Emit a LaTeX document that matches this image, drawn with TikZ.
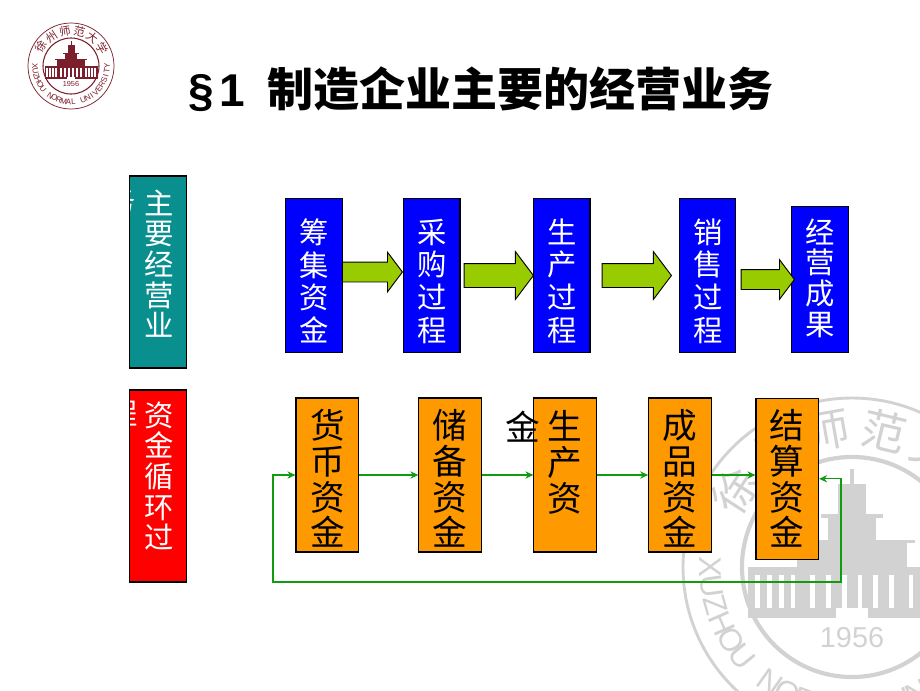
\documentclass[tikz,border=0pt]{standalone}
\usepackage{fontspec}
\setmainfont{Liberation Sans}
\newfontfamily\cjk{Noto Sans CJK SC}
\usetikzlibrary{
  arrows.meta,
  shapes.arrows
}
\definecolor{xzteal}{HTML}{0A8F8F}
\definecolor{xzblue}{HTML}{0000FF}
\definecolor{xzred}{HTML}{FF0000}
\definecolor{xzorange}{HTML}{FF9900}
\definecolor{xzolive}{HTML}{99CC00}
\definecolor{xzline}{HTML}{0F9D0F}
\definecolor{xzseal}{HTML}{7A1F2B}
\definecolor{xzmark}{HTML}{D2D2D2}

% seal: x, y, scale, colour
\newcommand{\xzseal}[4]{
  \begin{scope}[shift={(#1,#2)}, y=0.75pt, scale=#3, transform shape]
    \draw[#4, line width=#3*0.55pt] (0,0) circle (43);
    \draw[#4, line width=#3*0.8pt] (0,0) circle (28);
    % building
    \fill[#4] (-26.5,-13) rectangle (26.5,0);
    \fill[#4] (-14,-13) rectangle (14,6);
    \fill[#4] (-16,6) rectangle (16,7);
    \fill[#4] (-6,7) rectangle (6,12.5);
    \fill[#4] (-8,12.5) rectangle (8,13.5);
    \fill[#4] (-3.5,13.5) rectangle (3.5,21);
    \fill[#4] (-0.4,21) rectangle (0.4,25);
    \foreach \sx in {-24,-21,-18,-15,-10,-6,-2,2,6,10,15,18,21,24}
      \fill[white] (\sx-0.6,-10.5) rectangle (\sx+0.6,-2);
    \fill[white] (-4,-13) rectangle (4,-10.5);
    \node[text=#4, font=\fontsize{5.5}{6}\selectfont, inner sep=0pt] at (0,-18) {1956};
    % ring text
    \foreach \ch [count=\i from 0] in {X,U,Z,H,O,U,{ },N,O,R,M,A,L,{ },U,N,I,V,E,R,S,I,T,Y}
      \node[text=#4, font=\fontsize{6}{7}\selectfont, inner sep=0pt, rotate={180+\i*7.83+90}]
        at ({180+\i*7.83}:36) {\ch};
    \foreach \ch [count=\i from 0] in {徐,州,师,范,大,学}
      \node[text=#4, font=\fontsize{8.5}{9}\selectfont\cjk, inner sep=0pt, rotate={147-\i*23.5-90}]
        at ({147-\i*23.5}:35.5) {\ch};
  \end{scope}
}

\begin{document}
\begin{tikzpicture}[
  x=0.75pt, y=-0.75pt,
  sidebox/.style={draw=black, line width=0.8pt, minimum width=42.4pt, minimum height=144pt, inner sep=0pt},
  bluebox/.style={draw=black, line width=0.8pt, fill=xzblue, minimum width=42.4pt, inner sep=0pt},
  orangebox/.style={draw=black, line width=0.8pt, fill=xzorange, minimum width=47pt, inner sep=0pt},
  whitetext/.style={text=white, align=center, inner sep=0pt,
    font=\fontsize{22}{24.5}\selectfont\cjk},
  sidetext/.style={text=white, align=center, inner sep=0pt,
    font=\fontsize{22}{23}\selectfont\cjk},
  blacktext/.style={text=black, align=center, inner sep=0pt,
    font=\fontsize{26}{26.8}\selectfont\cjk},
  blockarrow/.style={draw=black, line width=0.7pt, fill=xzolive, single arrow, anchor=tip, inner sep=0pt,
    single arrow tip angle=106, text depth=0pt},
  flowline/.style={-{Stealth[length=6pt, width=5.5pt]}, xzline, line width=0.8pt}
]
  \useasboundingbox (0,0) rectangle (920,690);

  % Watermark
  \begin{scope}
    \clip (0,0) rectangle (920,690);
    \xzseal{852}{567}{3.93}{xzmark}
  \end{scope}

  % Seal
  \xzseal{71}{66}{1}{xzseal}

  % Title
  \node[anchor=west, inner sep=0pt, font=\fontsize{34.5}{40}\selectfont\bfseries] (title) at (188,89)
    {§\hspace{4pt}1\hspace{17pt}{\cjk 制造企业主要的经营业务}};

  % Side bars
  \node[sidebox, fill=xzteal] (mainbar) at (158.2,272) {};
  \node[sidebox, fill=xzred] (fundbar) at (158.2,486) {};
  \begin{scope}
    \clip (130,176) rectangle (186.5,368);
    \node[sidetext] (mainwrap) at (121,201) {务};
  \end{scope}
  \begin{scope}
    \clip (130,390) rectangle (186.5,582);
    \node[sidetext] (fundwrap) at (123,414) {程};
  \end{scope}
  \node[sidetext] (maintext) at (159,263.5) {主\\要\\经\\营\\业};
  \node[sidetext] (fundtext) at (159,476) {资\\金\\循\\环\\过};

  % Upper row
  \node[bluebox, minimum height=115pt] (chouji) at (314,275.5) {};
  \node[bluebox, minimum height=115pt] (caigou) at (431.7,275.5) {};
  \node[bluebox, minimum height=115pt] (shengchan) at (561.7,275.5) {};
  \node[bluebox, minimum height=115pt] (xiaoshou) at (707.5,275.5) {};
  \node[bluebox, minimum height=109.5pt] (chengguo) at (820,279.2) {};

  \node[whitetext] at (314.5,281) (choujitext) {筹\\集\\资\\金};
  \node[whitetext] at (432,281) (caigoutext) {采\\购\\过\\程};
  \node[whitetext] at (562,281) (shengchantext) {生\\产\\过\\程};
  \node[whitetext] at (708,281) (xiaoshoutext) {销\\售\\过\\程};
  \node[sidetext] at (820,278) (chengguotext) {经\\营\\成\\果};

  % Block arrows
  \node[blockarrow, text height=14.25pt, single arrow head extend=7.4pt, minimum height=45pt] (arrowa) at (403,272) {};
  \node[blockarrow, text height=17.25pt, single arrow head extend=8.9pt, minimum height=52pt] (arrowb) at (534,275.5) {};
  \node[blockarrow, text height=17.25pt, single arrow head extend=8.9pt, minimum height=52pt] (arrowc) at (672,275.5) {};
  \node[blockarrow, text height=14.25pt, single arrow head extend=7.4pt, minimum height=40pt] (arrowd) at (795,279.5) {};

  % Lower row
  \node[orangebox, minimum height=115.5pt] (huobi) at (327.3,475) {};
  \node[orangebox, minimum height=115.5pt] (chubei) at (450.2,475) {};
  \node[orangebox, minimum height=115.5pt] (shengzi) at (565.2,475) {};
  \node[orangebox, minimum height=115.5pt] (chengpin) at (680,475) {};
  \node[orangebox, minimum height=120.5pt] (jiesuan) at (787.3,478.8) {};

  \node[blacktext] at (327.5,478.5) (huobitext) {货\\币\\资\\金};
  \node[blacktext] at (450,478.5) (chubeitext) {储\\备\\资\\金};
  \node[blacktext] at (565,462.5) (shengzitext) {生\\产\\资};
  \node[blacktext] at (522.7,427) (shengziwrap) {金};
  \node[blacktext] at (680,478.5) (chengpintext) {成\\品\\资\\金};
  \node[blacktext] at (787,478.5) (jiesuantext) {结\\算\\资\\金};

  % Flow lines
  \draw[flowline] (huobi) -- (chubei);
  \draw[flowline] (chubei) -- (shengzi);
  \draw[flowline] (shengzi) -- (chengpin);
  \draw[flowline] (chengpin.east) -- (chengpin.east -| jiesuan.west);

  % Return loop
  \coordinate (loopleft) at (273,582);
  \coordinate (loopright) at (841,582);
  \draw[flowline, {Stealth[length=6pt, width=5.5pt]}-{Stealth[length=6pt, width=5.5pt]}]
    (huobi.west) -| (loopleft) -- (loopright) |- (jiesuan.east);

\end{tikzpicture}
\end{document}
